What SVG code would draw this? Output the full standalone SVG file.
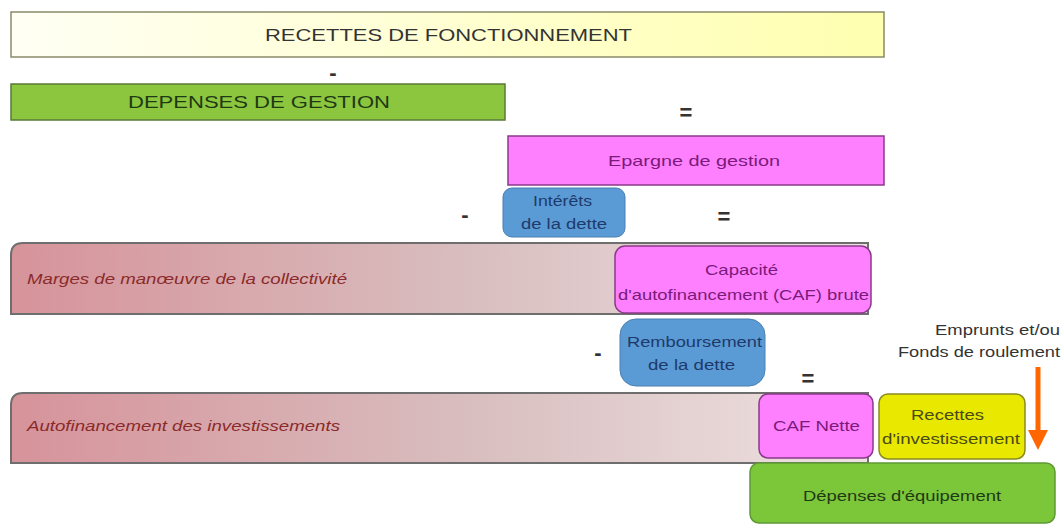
<svg xmlns="http://www.w3.org/2000/svg" width="1062" height="526" viewBox="0 0 1062 526">
<defs>
<linearGradient id="gY" x1="0" y1="0" x2="1" y2="0"><stop offset="0" stop-color="#fffff4"/><stop offset="1" stop-color="#ffffb0"/></linearGradient>
<linearGradient id="gR" x1="0" y1="0" x2="1" y2="0"><stop offset="0" stop-color="#d6939a"/><stop offset="0.55" stop-color="#d9bfc0"/><stop offset="1" stop-color="#efe2e2"/></linearGradient>
<marker id="arr" markerWidth="4" markerHeight="4" refX="2" refY="2" orient="auto" markerUnits="strokeWidth"><path d="M0,0 L4,2 L0,4 Z" fill="#ff6600"/></marker>
<style>
text{font-family:"Liberation Sans",Arial,sans-serif;}
.op{font-size:22px;font-weight:bold;fill:#333;text-anchor:middle;}
.mag{fill:#ff80ff;stroke:#8a3a8a;stroke-width:1.5;}
.blue{fill:#5b9bd5;stroke:#4a7fb0;stroke-width:1;}
.band{fill:url(#gR);stroke:#6e6e6e;stroke-width:2;}
.pt{fill:#7a1a7a;font-size:15px;}
.bt{fill:#1e3a6a;font-size:14px;}
.it{fill:#8b2a2a;font-size:14px;font-style:italic;}
.dk{fill:#333;font-size:14px;}
</style>
</defs>
<g id="recettes-fonct"><rect x="11" y="12" width="873" height="45" fill="url(#gY)" stroke="#8a8a6a" stroke-width="1.5"/><text x="265" y="41" font-size="17" fill="#333" textLength="367" lengthAdjust="spacingAndGlyphs">RECETTES DE FONCTIONNEMENT</text></g>
<g id="depenses-gestion"><rect x="11" y="84" width="494" height="36" fill="#8cc63f" stroke="#5a7a3a" stroke-width="1.5"/><text x="128" y="108" font-size="17" fill="#1e3a14" textLength="262" lengthAdjust="spacingAndGlyphs">DEPENSES DE GESTION</text></g>
<g id="epargne"><rect x="508" y="136" width="376" height="49" class="mag"/><text x="608" y="166" class="pt" textLength="172" lengthAdjust="spacingAndGlyphs">Epargne  de  gestion</text></g>
<g id="interets"><rect x="503" y="188" width="122" height="49" rx="9" class="blue"/><text x="533" y="206" class="bt" textLength="59" lengthAdjust="spacingAndGlyphs">Intérêts</text><text x="521" y="229" class="bt" textLength="86" lengthAdjust="spacingAndGlyphs">de la dette</text></g>
<g id="marges"><path d="M23,243 H868 V314 H11 V255 Q11,243 23,243 Z" class="band"/><text x="27" y="284" class="it" textLength="320" lengthAdjust="spacingAndGlyphs">Marges de manœuvre de la collectivité</text></g>
<g id="caf-brute"><rect x="615" y="246" width="256" height="67" rx="10" class="mag"/><text x="705" y="275" class="pt" textLength="73" lengthAdjust="spacingAndGlyphs">Capacité</text><text x="618" y="300" class="pt" textLength="251" lengthAdjust="spacingAndGlyphs">d'autofinancement  (CAF) brute</text></g>
<g id="remboursement"><rect x="620" y="319" width="145" height="67" rx="16" class="blue"/><text x="627" y="347" class="bt" textLength="135" lengthAdjust="spacingAndGlyphs">Remboursement</text><text x="648" y="370" class="bt" textLength="87" lengthAdjust="spacingAndGlyphs">de la dette</text></g>
<g id="emprunts"><text x="935" y="335" class="dk" textLength="125" lengthAdjust="spacingAndGlyphs">Emprunts  et/ou</text><text x="898" y="357" class="dk" textLength="162" lengthAdjust="spacingAndGlyphs">Fonds de roulement</text></g>
<g id="autofinancement"><path d="M23,393 H868 V463 H11 V405 Q11,393 23,393 Z" class="band"/><text x="27" y="431" class="it" textLength="313" lengthAdjust="spacingAndGlyphs">Autofinancement des investissements</text></g>
<g id="caf-nette"><rect x="759" y="394" width="114" height="64" rx="9" class="mag"/><text x="773" y="431" class="pt" textLength="87" lengthAdjust="spacingAndGlyphs">CAF Nette</text></g>
<g id="recettes-invest"><rect x="879" y="394" width="146" height="65" rx="9" fill="#e8e800" stroke="#8a8a20" stroke-width="1.5"/><text x="911" y="420" font-size="15" fill="#4a4a14" textLength="73" lengthAdjust="spacingAndGlyphs">Recettes</text><text x="882" y="444" font-size="15" fill="#4a4a14" textLength="138" lengthAdjust="spacingAndGlyphs">d'investissement</text></g>
<g id="depenses-equip"><rect x="750" y="463" width="305" height="60" rx="9" fill="#7cc63a" stroke="#5e9a34" stroke-width="1.5"/><text x="803" y="501" font-size="15" fill="#1e3a14" textLength="198" lengthAdjust="spacingAndGlyphs">Dépenses d'équipement</text></g>
<g id="connectors">
<line x1="1038" y1="367" x2="1038" y2="440" stroke="#ff6600" stroke-width="5" marker-end="url(#arr)"/>
<text x="333" y="80" class="op">-</text>
<text x="686" y="120" class="op">=</text>
<text x="465" y="222" class="op">-</text>
<text x="724" y="224" class="op">=</text>
<text x="598" y="360" class="op">-</text>
<text x="808" y="386" class="op">=</text>
</g>
</svg>
